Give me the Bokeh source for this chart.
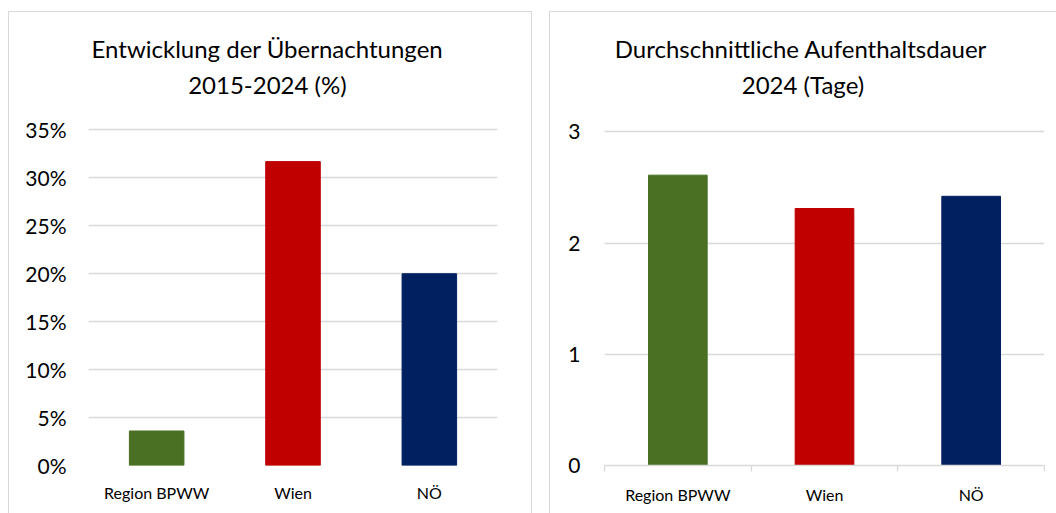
from bokeh.plotting import figure
from bokeh.models import FixedTicker, NumeralTickFormatter, Range1d, ColumnDataSource, Spacer
from bokeh.core.properties import value
from bokeh.layouts import row, column
from bokeh.embed import file_html
from bokeh.resources import INLINE

categories = ["Region BPWW", "Wien", "NÖ"]
colors = ["#4A7023", "#C00000", "#002060"]
growth = [0.036, 0.317, 0.200]
stay = [2.61, 2.31, 2.42]
title_left = ["Entwicklung der Übernachtungen", "2015-2024 (%)"]
title_right = ["Durchschnittliche Aufenthaltsdauer", "2024 (Tage)"]
left_ticks = [0, 0.05, 0.10, 0.15, 0.20, 0.25, 0.30, 0.35]
right_ticks = [0, 1, 2, 3]

FONT = "Lato"
GRID = "#d9d9d9"


def make(values, ticks, fmt, width, height, mb, top_px, title_lines, title_px, axis_line,
         ystand, styles):
    # top_px: pixels between canvas top and the top tick
    # title_px: (center x px from frame left, baseline px from canvas top) per title line
    n = len(categories)
    xs = [i + 0.5 for i in range(n)]
    plot_px = height - 1 - mb[3] - top_px
    k = (ticks[-1] - ticks[0]) / plot_px
    frame_w = width - mb[0] - mb[1] - (2 if "border-right" in styles else 1)
    kx = n / frame_w
    y_end = ticks[-1] + top_px * k

    src = ColumnDataSource(dict(x=xs, top=values, color=colors, cat=categories))
    p = figure(width=width, height=height, x_range=Range1d(0, n),
               y_range=Range1d(ticks[0], y_end), output_backend="svg",
               toolbar_location=None, min_border_left=mb[0], min_border_right=mb[1],
               min_border_top=0, min_border_bottom=mb[3])
    p.styles = styles
    p.vbar(x="x", top="top", width=0.4, color="color", source=src)
    p.outline_line_color = None
    p.background_fill_color = "white"
    p.border_fill_color = "white"
    p.xgrid.grid_line_color = None
    p.ygrid.ticker = FixedTicker(ticks=ticks)
    p.ygrid.grid_line_color = GRID
    p.ygrid.grid_line_width = 1.3

    ya = p.yaxis[0]
    ya.ticker = FixedTicker(ticks=ticks)
    if fmt:
        ya.formatter = NumeralTickFormatter(format=fmt)
    ya.axis_line_color = None
    ya.major_tick_line_color = None
    ya.minor_tick_line_color = None
    ya.major_tick_out = 0
    ya.major_tick_in = 0
    ya.major_label_standoff = ystand
    ya.major_label_text_font = FONT
    ya.major_label_text_font_size = "21px"
    ya.major_label_text_color = "#000000"

    xa = p.xaxis[0]
    xa.ticker = FixedTicker(ticks=xs, minor_ticks=list(range(n + 1)))
    xa.major_label_overrides = {x: c for x, c in zip(xs, categories)}
    xa.major_tick_line_color = None
    xa.major_tick_out = 0
    xa.major_tick_in = 0
    xa.major_label_standoff = 13
    xa.major_label_text_font = FONT
    xa.major_label_text_font_size = "16px"
    xa.major_label_text_color = "#000000"
    if axis_line:
        xa.axis_line_color = GRID
        xa.axis_line_width = 1.3
        xa.minor_tick_line_color = GRID
        xa.minor_tick_line_width = 1.3
        xa.minor_tick_out = 6
        xa.minor_tick_in = 0
    else:
        xa.axis_line_color = None
        xa.minor_tick_line_color = None

    tx = [px * kx for px, _ in title_px]
    ty = [ticks[-1] + (top_px - py) * k for _, py in title_px]
    p.text(x=tx, y=ty, text=title_lines, text_align="center", text_baseline="alphabetic",
           text_font=value(FONT), text_font_size=value("24px"), text_color="#000000")
    return p


p1 = make(growth, left_ticks, "0%", 524, 502, (79, 36, 0, 46), 118, title_left,
          [(178, 36), (178, 72)], False, 22,
          {"border-top": "1px solid #d9d9d9", "border-left": "1px solid #d9d9d9",
           "border-right": "1px solid #d9d9d9"})
p2 = make(stay, right_ticks, None, 507, 502, (54, 13, 0, 49), 119, title_right,
          [(196, 36), (198, 72)], True, 24,
          {"border-top": "1px solid #d9d9d9", "border-left": "1px solid #d9d9d9"})

layout = column(Spacer(height=11), row(Spacer(width=8), p1, Spacer(width=17), p2))

open("out.html", "w").write(file_html(layout, INLINE))
